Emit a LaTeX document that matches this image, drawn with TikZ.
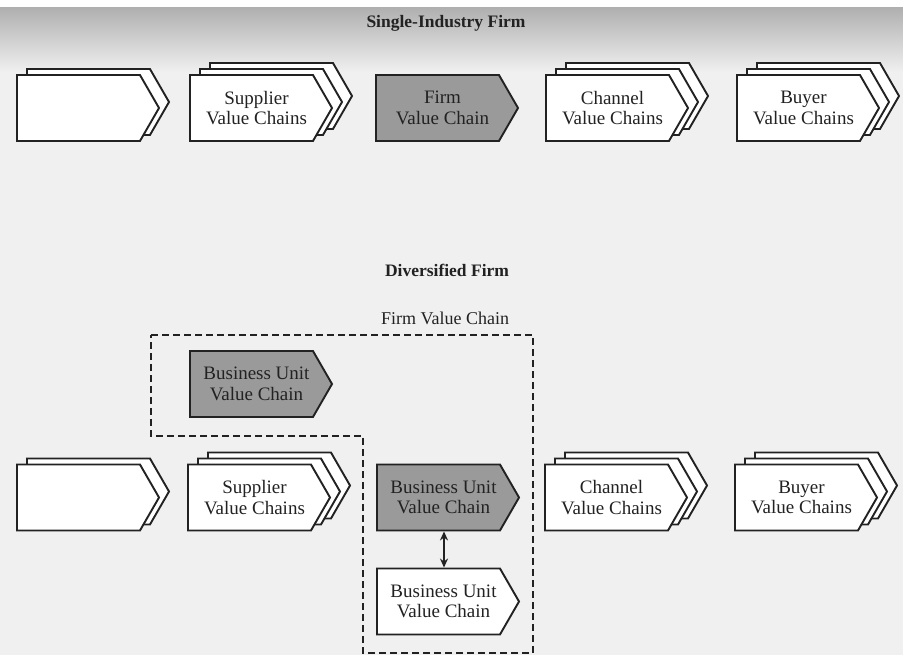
\documentclass[tikz,border=0pt]{standalone}
\usepackage{fontspec}
\setmainfont{Liberation Serif}
\usetikzlibrary{shapes.symbols,arrows.meta}
\definecolor{ink}{HTML}{222222}
\definecolor{boxgray}{HTML}{9A9A9A}
\definecolor{paper}{HTML}{F0F0F0}
\definecolor{band}{HTML}{B0B0B0}
\newcommand\twolines[2]{\hspace*{10pt}#1\\\hspace*{10pt}#2}
\begin{document}
\begin{tikzpicture}[x=1pt,y=-1pt,
  vc/.style={signal, signal to=east, signal pointer angle=120, draw=ink,
    line width=1.9pt, fill=white, minimum width=142pt, minimum height=66pt,
    inner sep=0pt, align=center, font=\fontsize{19}{20.5}\selectfont, text=ink},
  firm/.style={vc, fill=boxgray},
  title/.style={anchor=base, font=\fontsize{17.5}{20}\selectfont\bfseries, text=ink},
  label/.style={anchor=base, font=\fontsize{18}{20}\selectfont, text=ink},
  frame/.style={draw=ink, line width=1.9pt, dash pattern=on 7pt off 4pt},
  link/.style={draw=ink, line width=1.9pt, {Stealth[length=9pt,width=8pt]}-{Stealth[length=9pt,width=8pt]}}]
% background
\fill[paper] (0,0) rectangle (903,655);
\fill[white] (0,0) rectangle (903,8);
\shade[top color=band, bottom color=paper] (0,8) rectangle (903,72);
\useasboundingbox (0,0) rectangle (903,655);

% ---------- Single-Industry Firm ----------
\node[title] (t1) at (446,28) {Single-Industry Firm};

\node[vc] (a1b) at (88.5,102) {};
\node[vc] (a1) at (78.5,108) {};

\node[vc] (a2c) at (271.5,96) {};
\node[vc] (a2b) at (261.5,102) {};
\node[vc] (a2) at (251.5,108) {\twolines{Supplier}{Value Chains}};

\node[firm] (a3) at (437.5,108) {\twolines{Firm}{Value Chain}};

\node[vc] (a4c) at (627.5,96) {};
\node[vc] (a4b) at (617.5,102) {};
\node[vc] (a4) at (607.5,108) {\twolines{Channel}{Value Chains}};

\node[vc] (a5c) at (818.5,96) {};
\node[vc] (a5b) at (808.5,102) {};
\node[vc] (a5) at (798.5,108) {\twolines{Buyer}{Value Chains}};

% ---------- Diversified Firm ----------
\node[title] (t2) at (447,277) {Diversified Firm};
\node[label] (t3) at (445,324) {Firm Value Chain};

\coordinate (f1) at (151,335);
\coordinate (f2) at (533,335);
\coordinate (f3) at (533,653);
\coordinate (f4) at (363,653);
\coordinate (f5) at (363,436);
\coordinate (f6) at (151,436);
\draw[frame] (f1) -- (f2) -- (f3) -- (f4) -- (f5) -- (f6) -- cycle;

\node[firm] (u1) at (251.5,384) {\twolines{Business Unit}{Value Chain}};

\node[vc] (b1b) at (88.5,491.5) {};
\node[vc] (b1) at (78.5,497.5) {};

\node[vc] (b2c) at (269.5,485.5) {};
\node[vc] (b2b) at (259.5,491.5) {};
\node[vc] (b2) at (249.5,497.5) {\twolines{Supplier}{Value Chains}};

\node[firm] (u2) at (438.5,497.5) {\twolines{Business Unit}{Value Chain}};
\node[vc] (u3) at (438.5,601.5) {\twolines{Business Unit}{Value Chain}};

\node[vc] (b4c) at (626.5,485.5) {};
\node[vc] (b4b) at (616.5,491.5) {};
\node[vc] (b4) at (606.5,497.5) {\twolines{Channel}{Value Chains}};

\node[vc] (b5c) at (816.5,485.5) {};
\node[vc] (b5b) at (806.5,491.5) {};
\node[vc] (b5) at (796.5,497.5) {\twolines{Buyer}{Value Chains}};

\draw[link] ([xshift=5.5pt]u2.south) -- ([xshift=5.5pt]u3.north);
\end{tikzpicture}
\end{document}
